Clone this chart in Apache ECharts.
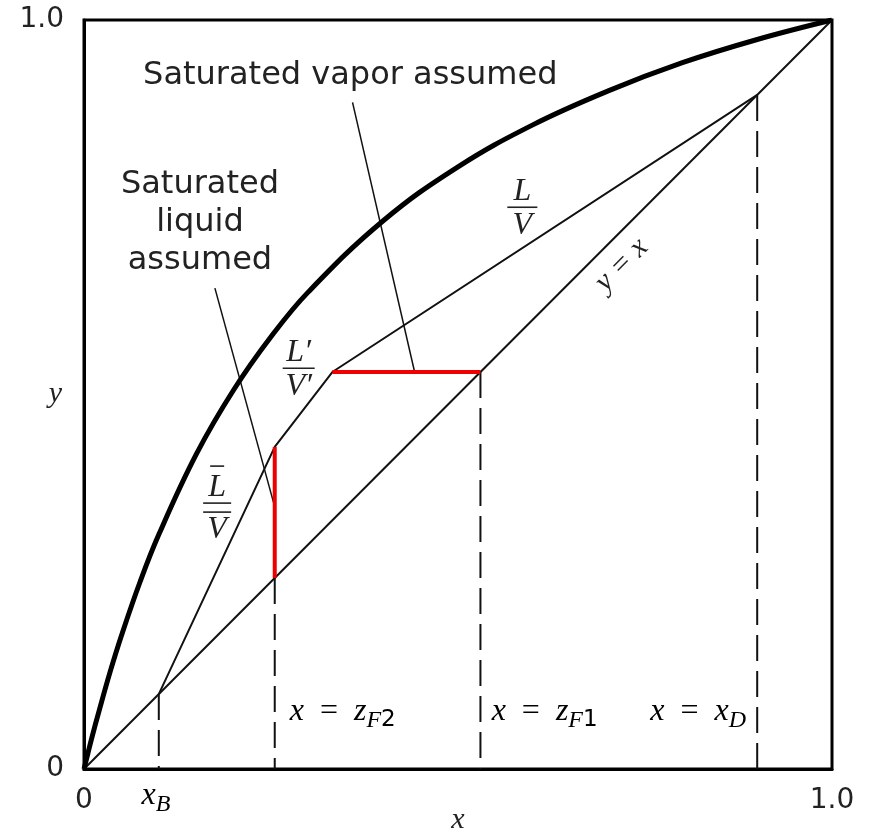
<!DOCTYPE html>
<html>
<head>
<meta charset="utf-8">
<script src="https://cdn.jsdelivr.net/npm/echarts@6/dist/echarts.min.js"></script>
<style>
  html, body { margin: 0; padding: 0; background: #fff; }
  #chart { width: 874px; height: 837px; }
</style>
</head>
<body>
<div id="chart"></div>
<script>
// equilibrium curve
var eqX = [0, 0.005, 0.01, 0.02, 0.035, 0.05, 0.075, 0.1, 0.15, 0.2, 0.25, 0.3, 0.4, 0.5, 0.6, 0.7, 0.8, 0.9, 1.0];
var eqY = [0, 0.02, 0.04, 0.077, 0.13, 0.178, 0.25, 0.313, 0.42, 0.506, 0.577, 0.637, 0.732, 0.804, 0.86, 0.905, 0.943, 0.974, 1.0];

// compositions
var xB = 0.1, zF2 = 0.255, zF1 = 0.53, xD = 0.9;

// operating lines (stripping, middle, rectifying)
var opX = [0.1, 0.255, 0.332, 0.9];
var opY = [0.1, 0.43, 0.53, 0.9];

// q-lines (red)
var qVaporX = [0.332, 0.53], qVaporY = [0.53, 0.53];
var qLiquidX = [0.255, 0.255], qLiquidY = [0.255, 0.43];

// leader lines from the notes
var vapLeadX = [0.359, 0.442], vapLeadY = [0.89, 0.53];
var liqLeadX = [0.175, 0.255], liqLeadY = [0.642, 0.35];

var dashX = [xB, zF2, zF1, xD];

function pairs(xs, ys) {
  return xs.map(function (v, i) { return [v, ys[i]]; });
}

var serif = '"Liberation Serif", "DejaVu Serif", serif';
var sans = '"DejaVu Sans", "Liberation Sans", sans-serif';
var ink = '#111';

var chart = echarts.init(document.getElementById('chart'));

function lineSeries(data, width, color, type, z) {
  return {
    type: 'line', data: data, symbol: 'none', silent: true, z: z || 2,
    lineStyle: { width: width, color: color, type: type || 'solid', cap: 'butt' }
  };
}

var series = [];
dashX.forEach(function (v) {
  series.push(lineSeries([[v, v], [v, 0]], 2, ink, [26, 10], 1));
});
series.push(lineSeries([[0, 0], [1, 1]], 2, ink));
series.push(lineSeries(pairs(opX, opY), 2, ink));
series.push(lineSeries(pairs(vapLeadX, vapLeadY), 1.5, ink));
series.push(lineSeries(pairs(liqLeadX, liqLeadY), 1.5, ink));
series.push(lineSeries(pairs(qVaporX, qVaporY), 4, '#ee0000', 'solid', 4));
series.push(lineSeries(pairs(qLiquidX, qLiquidY), 4, '#ee0000', 'solid', 4));
var eq = lineSeries(pairs(eqX, eqY), 5, '#000', 'solid', 3);
eq.smooth = 0.4;
series.push(eq);

var option = {
  animation: false,
  grid: { left: 84, top: 20, width: 748, height: 749, outerBoundsMode: 'none',
    show: true, borderColor: '#000', borderWidth: 3 },
  xAxis: {
    type: 'value', min: 0, max: 1, interval: 1,
    axisLine: { lineStyle: { color: '#000', width: 3 } },
    axisTick: { show: false }, splitLine: { show: false },
    axisLabel: { margin: 18, fontSize: 28, fontFamily: sans, color: '#222',
      formatter: function (v) { return v === 1 ? '1.0' : '0'; } },
    name: 'x', nameLocation: 'middle', nameGap: 36, nameMoveOverlap: false,
    nameTextStyle: { fontSize: 30, fontFamily: serif, fontStyle: 'italic', color: '#222' }
  },
  yAxis: {
    type: 'value', min: 0, max: 1, interval: 1,
    axisLine: { lineStyle: { color: '#000', width: 3 } },
    axisTick: { show: false }, splitLine: { show: false },
    axisLabel: { margin: 20, fontSize: 28, fontFamily: sans, color: '#222',
      formatter: function (v) { return v === 1 ? '1.0' : '0'; } },
    name: 'y', nameLocation: 'middle', nameGap: 22, nameRotate: 0, nameMoveOverlap: false,
    nameTextStyle: { fontSize: 30, fontFamily: serif, fontStyle: 'italic', color: '#222' }
  },
  series: series
};
chart.setOption(option);

function px(x, y) { return chart.convertToPixel({ gridIndex: 0 }, [x, y]); }

function txt(p, text, font, align, dx, dy, extra) {
  var el = {
    type: 'text', x: p[0] + (dx || 0), y: p[1] + (dy || 0), z: 10, silent: true,
    style: { text: text, font: font, fill: '#222', align: align || 'center', verticalAlign: 'middle' }
  };
  if (extra) for (var k in extra) el.style[k] = extra[k];
  return el;
}
function bar(p, x1, x2, dy) {
  return { type: 'line', z: 10, silent: true,
    shape: { x1: p[0] + x1, y1: p[1] + dy, x2: p[0] + x2, y2: p[1] + dy },
    style: { stroke: '#222', lineWidth: 1.6 } };
}

var fI = 'italic 32px ' + serif;
var graphic = [];

// notes
graphic.push(txt(px(0.356, 0.925), 'Saturated vapor assumed', '32px ' + sans));
graphic.push(txt(px(0.155, 0.730), 'Saturated\nliquid\nassumed', '32px ' + sans, 'center', 0, 0, { lineHeight: 38 }));

// L/V
var pLV = px(0.586, 0.750);
graphic.push(txt(pLV, 'L', fI, 'center', 0, -16));
graphic.push(bar(pLV, -15, 15, 0));
graphic.push(txt(pLV, 'V', fI, 'center', 0, 18));

// L'/V'
var pLp = px(0.287, 0.535);
graphic.push(txt(pLp, 'L\u2032', fI, 'center', 0, -16));
graphic.push(bar(pLp, -16, 16, 0));
graphic.push(txt(pLp, 'V\u2032', fI, 'center', 0, 18));

// Lbar/Vbar
var pLb = px(0.178, 0.355);
graphic.push(bar(pLb, -7, 7, -37));
graphic.push(txt(pLb, 'L', fI, 'center', 0, -16));
graphic.push(bar(pLb, -14, 14, 0));
graphic.push(bar(pLb, -14, 14, 9));
graphic.push(txt(pLb, 'V', fI, 'center', 0, 26));

// y = x along the diagonal
var pD = px(0.719, 0.673);
graphic.push({ type: 'text', x: pD[0], y: pD[1], rotation: Math.PI / 4, z: 10, silent: true,
  style: { text: 'y = x', font: 'italic 30px ' + serif, fill: '#222', align: 'center', verticalAlign: 'middle' } });

// x = z labels with subscripts
var rich = {
  m: { fontFamily: serif, fontStyle: 'italic', fontSize: 32, color: '#222' },
  e: { fontFamily: serif, fontSize: 32, color: '#222' },
  s: { fontFamily: serif, fontStyle: 'italic', fontSize: 24, color: '#222', padding: [18, 0, 0, 0] },
  n: { fontFamily: sans, fontSize: 23, color: '#222', padding: [18, 0, 0, 0] }
};
function subLabel(p, parts) {
  return { type: 'text', x: p[0], y: p[1], z: 10, silent: true,
    style: { text: parts, rich: rich, align: 'left', verticalAlign: 'middle' } };
}
var eqSign = '{e|\u00a0\u00a0=\u00a0\u00a0}';
graphic.push(subLabel(px(zF2 + 0.02, 0.077), '{m|x}' + eqSign + '{m|z}{s|F}{n|2}'));
graphic.push(subLabel(px(zF1 + 0.015, 0.077), '{m|x}' + eqSign + '{m|z}{s|F}{n|1}'));
graphic.push(subLabel(px(0.757, 0.077), '{m|x}' + eqSign + '{m|x}{s|D}'));
graphic.push(subLabel(px(0.077, -0.035), '{m|x}{s|B}'));

chart.setOption({ graphic: graphic });
</script>
</body>
</html>
